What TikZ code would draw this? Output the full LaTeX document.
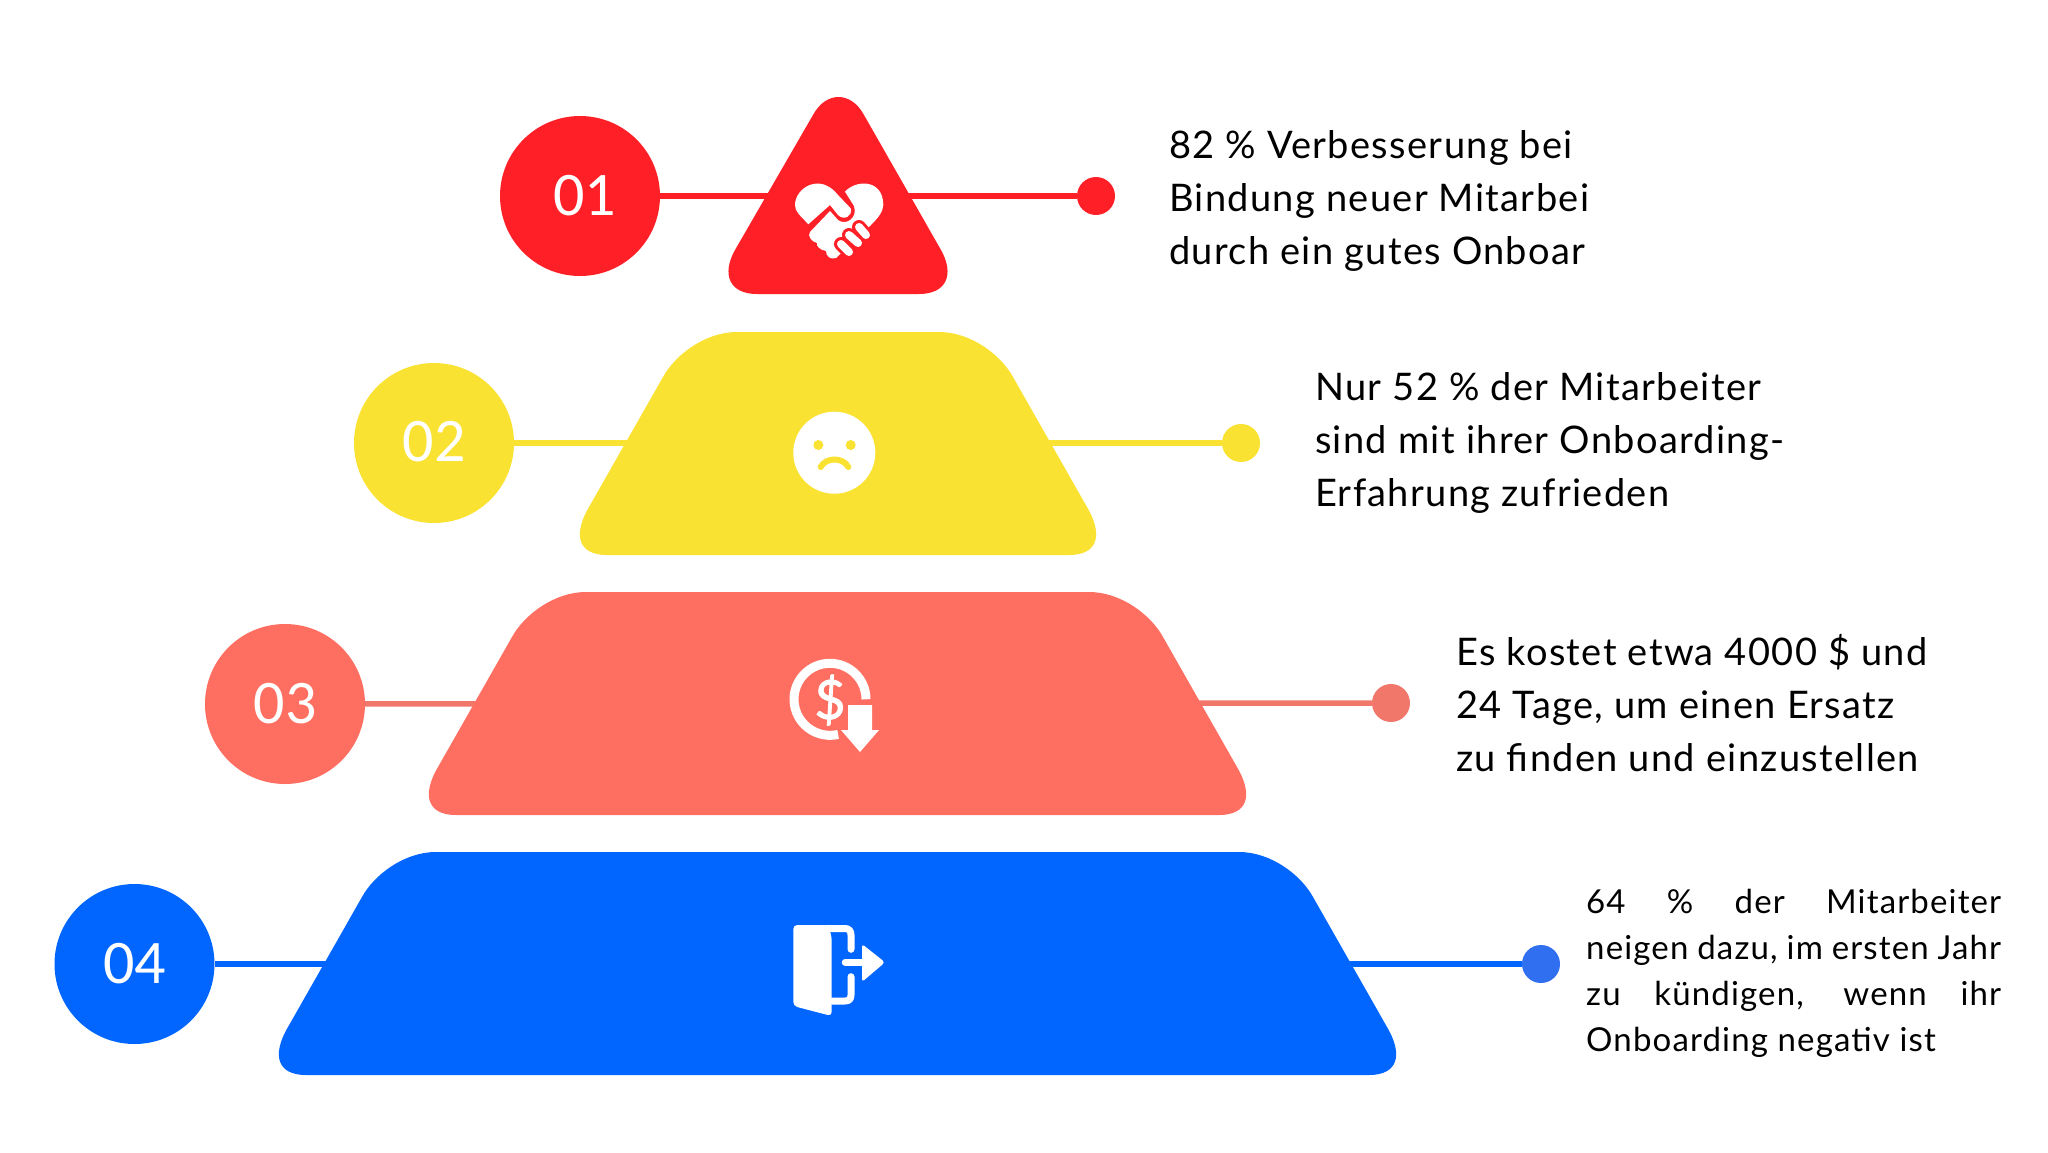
\documentclass[tikz,border=0pt]{standalone}
\usepackage{fontspec}
\setmainfont[LetterSpace=3.5]{Lato}
\newfontfamily\numfont{Carlito}
\definecolor{tierred}{HTML}{FF2027}
\definecolor{tieryellow}{HTML}{F9E231}
\definecolor{tiercoral}{HTML}{FF6F61}
\definecolor{tierblue}{HTML}{0066FF}
\definecolor{dotcoral}{HTML}{F0776A}
\definecolor{dotblue}{HTML}{2F6FF0}

\begin{document}
\begin{tikzpicture}
[x=1pt,y=-1pt,
numdisc/.style={shape=circle,minimum size=160pt,inner sep=0pt,text=white,font=\numfont\fontsize{62}{62}\selectfont},
enddot/.style={shape=circle,minimum size=38pt,inner sep=0pt},
conn/.style={line width=5.5pt},
info/.style={anchor=west,inner sep=0pt,align=left,text=black,font=\fontsize{38}{53}\selectfont},
infosmall/.style={anchor=west,inner sep=0pt,text width=415pt,align=justify,text=black,font=\fontsize{33}{46}\selectfont},
capsule/.style={line cap=round,line join=round}]

\useasboundingbox (0,0) rectangle (2048,1152);

\node[numdisc,fill=tierred] (num1) at (580,196) {\hspace*{9pt}01};
\node[numdisc,fill=tieryellow] (num2) at (434,443) {\raisebox{3pt}{02}};
\node[numdisc,fill=tiercoral] (num3) at (285,704) {\raisebox{2pt}{03}};
\node[numdisc,fill=tierblue] (num4) at (134.5,964) {04};

\node[enddot,fill=tierred] (end1) at (1096,196) {};
\node[enddot,fill=tieryellow] (end2) at (1241,443) {};
\node[enddot,fill=dotcoral] (end3) at (1391,703) {};
\node[enddot,fill=dotblue] (end4) at (1541,964) {};

\draw[conn,tierred] (num1) -- (end1);
\draw[conn,tieryellow] (num2) -- (end2);
\draw[conn,dotcoral] (num3) -- (end3);
\draw[conn,tierblue] (num4) -- (end4);

% tiers
\fill[tierred] (757,294) .. controls (730,294) and (721,275) .. (735,250) -- (813,115)
 .. controls (826,91) and (851,91) .. (864,115) -- (941,250)
 .. controls (955,275) and (946,294) .. (919,294) -- cycle;
\fill[tieryellow] (607,555) .. controls (579,555) and (572,536) .. (589,507) -- (663,377)
 .. controls (675,355) and (705,332) .. (737,332) -- (939,332)
 .. controls (971,332) and (1001,355) .. (1013,377) -- (1087,507)
 .. controls (1104,536) and (1097,555) .. (1069,555) -- cycle;
\fill[tiercoral] (456,815) .. controls (428,815) and (421,796) .. (438,767) -- (512,637)
 .. controls (524,615) and (554,592) .. (586,592) -- (1089,592)
 .. controls (1121,592) and (1151,615) .. (1163,637) -- (1237,767)
 .. controls (1254,796) and (1247,815) .. (1219,815) -- cycle;
\fill[tierblue] (306,1075) .. controls (278,1075) and (271,1056) .. (288,1027) -- (362,897)
 .. controls (374,875) and (404,852) .. (436,852) -- (1239,852)
 .. controls (1271,852) and (1301,875) .. (1313,897) -- (1387,1027)
 .. controls (1404,1056) and (1397,1075) .. (1369,1075) -- cycle;

% handshake heart
\fill[white] (808.3,224.3) .. controls (800,215) and (795,212) .. (795,205)
 .. controls (795,188) and (820,172) .. (838,195) -- (850.7,208.3)
 .. controls (853,216) and (844,221) .. (838,215) -- (830,205) -- cycle;
\fill[white] (845,191.7) .. controls (855,180) and (883,178) .. (883.3,205)
 .. controls (883,212) and (878,218) .. (870,226) -- (836,258)
 .. controls (830,260) and (826,256) .. (826,251) .. controls (820,250) and (816,246) .. (817,243)
 .. controls (812,242) and (807,236) .. (810,232) -- (830,211) -- (838,220)
 .. controls (846,226) and (858,218) .. (854,206) -- cycle;
\draw[capsule,tierred,line width=14pt] (859,227) -- (866,235) (849,235) -- (858,243) (841,244) -- (849,252);
\draw[capsule,white,line width=8pt] (859,227) -- (866,235) (849,235) -- (858,243) (841,244) -- (849,252);

% sad face
\fill[white] (834.3,452.7) circle (41);
\fill[tieryellow] (818.3,445) circle (5) (850.7,445) circle (5);
\draw[capsule,tieryellow,line width=6pt] (820.7,467) .. controls (826,457) and (843,457) .. (848.3,467);

% falling dollar
\draw[white,line width=9pt] (866,699.3) arc[start angle=0,end angle=-283,radius=36];
\node[text=white,inner sep=0pt,font=\fontsize{54}{54}\selectfont\addfontfeature{FakeBold=1.5}] (dollar) at (830,700) {\$};
\fill[white] (848,705) -- (872,705) -- (872,730) -- (879,730) -- (860,752) -- (841,730) -- (848,730) -- cycle;

% exit door
\fill[white,rounded corners=4pt] (793.3,925) -- (828,925) -- (831.7,936.7) -- (831.7,1016) -- (793.3,1006) -- cycle;
\draw[capsule,white,line width=7pt] (826,928.5) -- (845,928.5) .. controls (849,928.5) and (851,931) .. (851,935) -- (851,949.3);
\draw[capsule,white,line width=7pt] (851,976.7) -- (851,995) .. controls (851,999) and (849,1001) .. (845,1001) -- (832,1001);
\draw[capsule,white,line width=6.5pt] (845,962.3) -- (866,962.3);
\fill[white,rounded corners=3pt] (862,944) -- (885,962.3) -- (862,982) -- cycle;

% texts
\node[info] (text1) at (1169,201) {82 \% Verbesserung bei\\Bindung neuer Mitarbei\\durch ein gutes Onboar};
\node[info] (text2) at (1315,443) {Nur 52 \% der Mitarbeiter\\sind mit ihrer Onboarding-\\Erfahrung zufrieden};
\node[info] (text3) at (1456,703) {Es kostet etwa 4000 \$ und\\24 Tage, um einen Ersatz\\zu finden und einzustellen};
\node[infosmall] (text4) at (1586,973) {64 \% der Mitarbeiter\linebreak neigen dazu, im ersten Jahr\linebreak zu kündigen, wenn ihr\linebreak Onboarding negativ ist};
\end{tikzpicture}
\end{document}
